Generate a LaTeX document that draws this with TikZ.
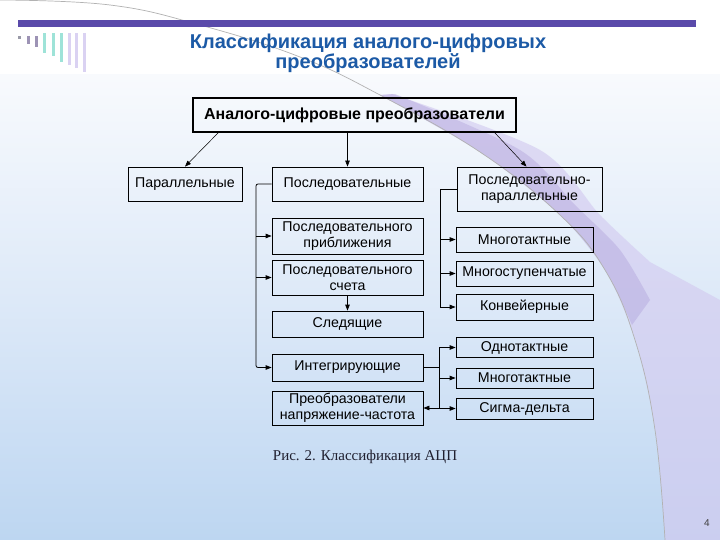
\documentclass[tikz,border=0pt]{standalone}
\usepackage{fontspec}
\setmainfont{Liberation Sans}
\newfontfamily\serifcap{Liberation Serif}
\usetikzlibrary{arrows.meta,calc}
\definecolor{bartop}{HTML}{5A4AAA}
\definecolor{titleblue}{HTML}{1C5AA6}
\definecolor{bgtop}{HTML}{F8FAFD}
\definecolor{bgmid}{HTML}{DDE9F8}
\definecolor{bgbot}{HTML}{BDD6F1}
\definecolor{lav}{HTML}{D3CBF0}
\definecolor{purp}{HTML}{A796D6}
\definecolor{decA}{HTML}{9A9AA8}
\definecolor{decB}{HTML}{9D93B5}
\definecolor{decC}{HTML}{9EE3D8}
\definecolor{decD}{HTML}{DAD2F2}
\definecolor{capcol}{HTML}{202030}
\tikzset{
  box/.style={draw=black, line width=0.8pt, inner sep=0pt, align=center,
    font=\fontsize{14.2}{16}\selectfont},
  conn/.style={draw=black, line width=0.8pt},
  arr/.style={conn, -{Triangle[length=6pt,width=4.5pt]}},
  thinarr/.style={draw=black, line width=0.5pt, -{Triangle[length=6pt,width=4.5pt]}},
}
\begin{document}
\begin{tikzpicture}[x=1pt,y=-1pt]
\useasboundingbox (0,0) rectangle (720,540);
% background
\fill[white] (0,0) rectangle (720,75);
\shade[top color=bgtop,bottom color=bgmid] (0,75) rectangle (720,300);
\shade[top color=bgmid,bottom color=bgbot] (0,300) rectangle (720,540);
% swoosh
\fill[lav, opacity=0.65] plot[smooth] coordinates {(380,95) (480,152) (560,215) (605,270) (635,340) (655,430) (665,540)}
  -- (720,540) -- (720,300)
  -- plot[smooth] coordinates {(650,262) (600,215) (540,150) (392,94)} -- cycle;
\fill[purp, opacity=0.35] plot[smooth] coordinates {(380,95) (480,152) (560,215) (605,270) (632,325)}
  -- plot[smooth] coordinates {(650,300) (620,250) (575,205) (520,150) (395,94)} -- cycle;
\draw[gray!60, line width=0.7pt] plot[smooth, tension=0.7] coordinates {(0,0) (110,5) (200,25) (300,57) (380,95) (480,152) (560,215) (605,270) (635,340) (655,430) (665,540)};
% top bar and decoration
\fill[bartop] (18,20.5) rectangle (696,27.5);
\foreach \x/\a/\b/\c in {18/36/39/decA, 26.5/36/44/decB, 35/36/47/decB, 43/33/53/decC, 51.5/33/56/decC, 59.5/33/62/decC, 67.5/33/65/decD, 75/33/68/decD, 83/33/72/decD}
  \fill[\c] (\x,\a) rectangle (\x+3,\b);
% title
\node[font=\bfseries\fontsize{20}{19}\selectfont, text=titleblue, align=center] (title) at (368,53.5)
  {Классификация аналого-цифровых\\преобразователей};
% boxes
\node[box, line width=1.8pt, minimum width=323pt, minimum height=34pt, font=\bfseries\fontsize{16}{18}\selectfont] (top) at (354.5,115) {Аналого-цифровые преобразователи};
\node[box, minimum width=114pt, minimum height=34pt] (par) at (185,184) {Параллельные};
\node[box, minimum width=151pt, minimum height=34pt] (posl) at (347.5,184) {Последовательные};
\node[box, minimum width=145pt, minimum height=44pt] (pp) at (529.5,189) {Последовательно-\\параллельные};
\node[box, minimum width=151pt, minimum height=36pt] (spr) at (347.5,236) {Последовательного\\приближения};
\node[box, minimum width=151pt, minimum height=35pt] (ssch) at (347.5,277.5) {Последовательного\\счета};
\node[box, minimum width=151pt, minimum height=26pt] (sled) at (347.5,324) {Следящие};
\node[box, minimum width=151pt, minimum height=27pt] (integ) at (347.5,367.5) {Интегрирующие};
\node[box, minimum width=151pt, minimum height=34pt] (pnch) at (347.5,408) {Преобразователи\\напряжение-частота};
\node[box, minimum width=137pt, minimum height=25pt] (m1) at (524.5,239.5) {Многотактные};
\node[box, minimum width=137pt, minimum height=25pt] (ms) at (524.5,273.5) {Многоступенчатые};
\node[box, minimum width=137pt, minimum height=26pt] (konv) at (524.5,307) {Конвейерные};
\node[box, minimum width=137pt, minimum height=20pt] (odn) at (524.5,347.5) {Однотактные};
\node[box, minimum width=137pt, minimum height=20pt] (m2) at (524.5,378) {Многотактные};
\node[box, minimum width=137pt, minimum height=21pt] (sigma) at (524.5,408.5) {Сигма-дельта};
% connectors from top
\draw[thinarr] ([xshift=26pt]top.south west) -- (par.north);
\draw[thinarr] (top.south -| posl.north) -- (posl.north);
\draw[thinarr] ([xshift=-22pt]top.south east) -- ([xshift=-3pt]pp.north);
% left bracket
\coordinate (lb) at (256,184);
\draw[arr, rounded corners=2pt] (posl.west) -- (lb) |- (integ.west);
\draw[arr] (spr.west -| lb) -- (spr.west);
\draw[arr] (ssch.west -| lb) -- (ssch.west);
\draw[arr] (ssch.south) -- (sled.north);
% right upper bracket
\coordinate (rb) at (440,189);
\draw[arr] (pp.west) -- (rb) |- (konv.west);
\draw[arr] (m1.west -| rb) -- (m1.west);
\draw[arr] (ms.west -| rb) -- (ms.west);
% lower bracket
\coordinate (lb2) at (439,368);
\draw[conn] (integ.east) -- (integ.east -| lb2);
\draw[conn] (odn.west -| lb2) -- (sigma.west -| lb2);
\draw[arr] (odn.west -| lb2) -- (odn.west);
\draw[arr] (m2.west -| lb2) -- (m2.west);
\draw[arr] (sigma.west -| lb2) -- (sigma.west);
\draw[arr] (pnch.east -| lb2) -- (pnch.east);
% caption and page number
\node[font=\serifcap\fontsize{15}{17}\selectfont, text=capcol] (cap) at (365,457) {Рис. 2. Классификация АЦП};
\node[font=\fontsize{10}{12}\selectfont, text=black!75] (pg) at (707,523) {4};
\end{tikzpicture}
\end{document}
